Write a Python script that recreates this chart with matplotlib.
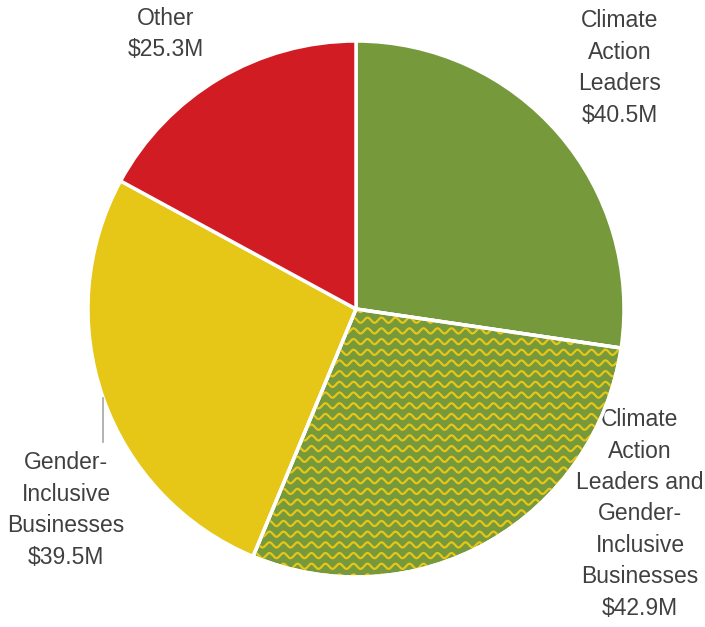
import numpy as np
import matplotlib.pyplot as plt
from matplotlib.patches import Wedge

names = ["Climate\nAction\nLeaders",
         "Climate\nAction\nLeaders and\nGender-\nInclusive\nBusinesses",
         "Gender-\nInclusive\nBusinesses",
         "Other"]
values = [40.5, 42.9, 39.5, 25.3]
colors = ["#76993c", "#76993c", "#e6c617", "#d11c24"]

plt.rcParams['font.family'] = ["Liberation Sans", "DejaVu Sans"]

W, H = 705, 627
fig = plt.figure(figsize=(W / 100, H / 100), dpi=100)
ax = fig.add_axes([0, 0, 1, 1])

cx, cy, r = 356, H - 309, 268
wedges, _ = ax.pie(values, colors=colors, startangle=90, counterclock=False,
                   center=(cx, cy), radius=r, frame=True,
                   wedgeprops=dict(edgecolor="white", linewidth=2.5))
ax.set_xlim(0, W)
ax.set_ylim(0, H)
ax.set_aspect('equal')
ax.axis('off')

# wavy yellow lines over the combined slice
xs = np.arange(cx - r, cx + r, 0.5)
for base in np.arange(cy - r, cy + r, 10.7):
    ln, = ax.plot(xs, base + 2.6 * np.sin(2 * np.pi * xs / 14.0),
                  color="#e6c617", lw=1.6, zorder=3)
    ln.set_clip_path(wedges[1])
w = wedges[1]
ax.add_patch(Wedge(w.center, w.r, w.theta1, w.theta2,
                   facecolor="none", edgecolor="white", lw=2.5, zorder=4))

# labels
txt = dict(color="#404040", fontsize=16.5, ha="center", va="center", linespacing=1.47)
label_pos = [(620, 68), (640, 514), (66, 510), (166, 34)]
for name, v, (x, y) in zip(names, values, label_pos):
    ax.text(x, H - y, f"{name}\n${v}M", **txt)

ax.plot([103, 103], [H - 398, H - 442], color="#a6a6a6", lw=1.2)

fig.savefig("out.png", dpi=100)
